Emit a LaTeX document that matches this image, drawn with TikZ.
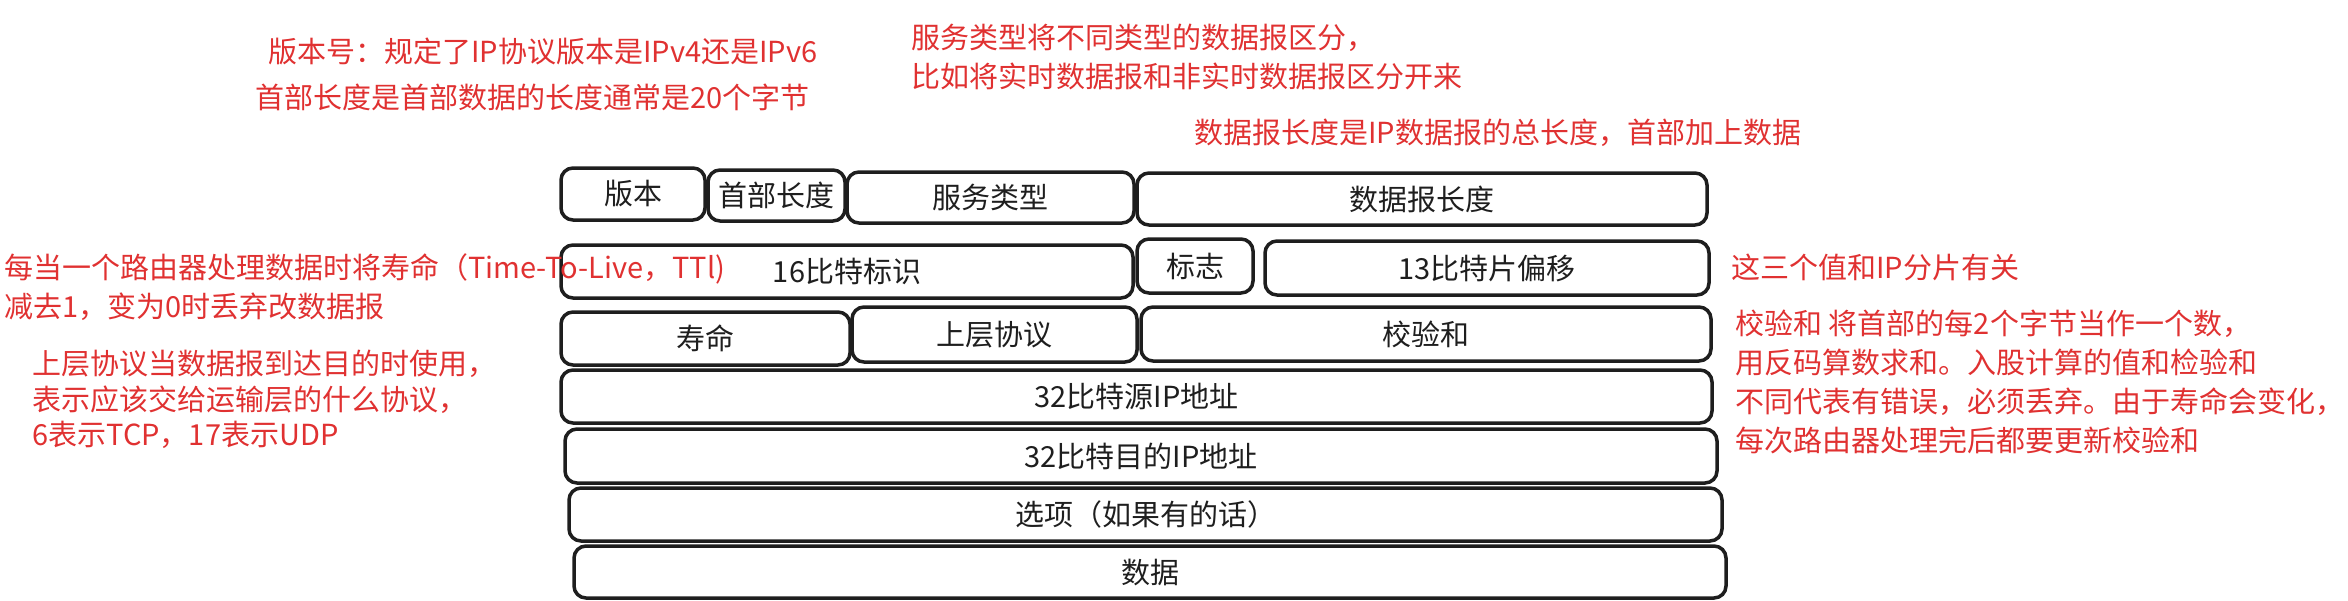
\documentclass[tikz,border=0pt]{standalone}
\usepackage{fontspec}
\usepackage{xcolor}
\newfontfamily\cjk{Noto Sans CJK SC}
\definecolor{notered}{HTML}{E03131}
\definecolor{inkblack}{HTML}{1E1E1E}

\begin{document}
\begin{tikzpicture}[
  x=0.5pt, y=-0.5pt,
  field/.style ={draw=inkblack, line width=1.75pt, rounded corners=6pt, inner sep=0pt,
                 text=inkblack, font=\cjk\fontsize{14.5pt}{16pt}\selectfont},
  wh/.style 2 args={minimum width=#1*0.5pt, minimum height=#2*0.5pt},
  note/.style  ={font=\cjk\fontsize{14.5pt}{19.5pt}\selectfont, text=notered,
                 anchor=west, inner sep=0pt, align=left},
]
\useasboundingbox (0,0) rectangle (2348,600);

% ---------------- header fields ----------------
\node[field, wh={144}{52}]  (ver)   at (633,194)    {版本};
\node[field, wh={137}{51}]  (hlen)  at (776.5,195.5) {首部长度};
\node[field, wh={287}{51}]  (tos)   at (990.5,197.5) {服务类型};
\node[field, wh={570}{52}]  (tlen)  at (1422,199)   {数据报长度};

\node[field, wh={572}{53}]  (ident) at (847,271.5)  {16比特标识};
\node[field, wh={116}{54}]  (flag)  at (1195,266)   {标志};
\node[field, wh={444}{54}]  (frag)  at (1487,268)   {13比特片偏移};

\node[field, wh={289}{53}]  (ttl)   at (705.5,338.5) {寿命};
\node[field, wh={285}{55}]  (proto) at (994.5,334.5) {上层协议};
\node[field, wh={570}{54}]  (csum)  at (1426,334)   {校验和};

\node[field, wh={1151}{53}] (src)   at (1136.5,396.5) {32比特源IP地址};
\node[field, wh={1152}{54}] (dst)   at (1141,456)   {32比特目的IP地址};
\node[field, wh={1153}{53}] (opt)   at (1145.5,514.5) {选项（如果有的话）};
\node[field, wh={1152}{52}] (data)  at (1150,572)   {数据};

% ---------------- notes ----------------
\node[note] (vernote)  at (268,51)  {版本号：规定了IP协议版本是IPv4还是IPv6};
\node[note] (hlennote) at (255,97)  {首部长度是首部数据的长度通常是20个字节};
\node[note] (tosnote)  at (911,56.5)
  {服务类型将不同类型的数据报区分，\\比如将实时数据报和非实时数据报区分开来};
\node[note] (tlennote) at (1194,133) {数据报长度是IP数据报的总长度，首部加上数据};
\node[note] (ttlnote)  at (4,287.5)
  {每当一个路由器处理数据时将寿命（Time-To-Live，TTl)\\减去1，变为0时丢弃改数据报};
\node[note, font=\cjk\fontsize{14.5pt}{17.75pt}\selectfont] (protonote) at (32,399.5)
  {上层协议当数据报到达目的时使用，\\表示应该交给运输层的什么协议，\\6表示TCP，17表示UDP};
\node[note] (fragnote) at (1731,267) {这三个值和IP分片有关};
\node[note] (csumnote) at (1735,382)
  {校验和 将首部的每2个字节当作一个数，\\用反码算数求和。入股计算的值和检验和\\不同代表有错误，必须丢弃。由于寿命会变化，\\每次路由器处理完后都要更新校验和};

\end{tikzpicture}
\end{document}
